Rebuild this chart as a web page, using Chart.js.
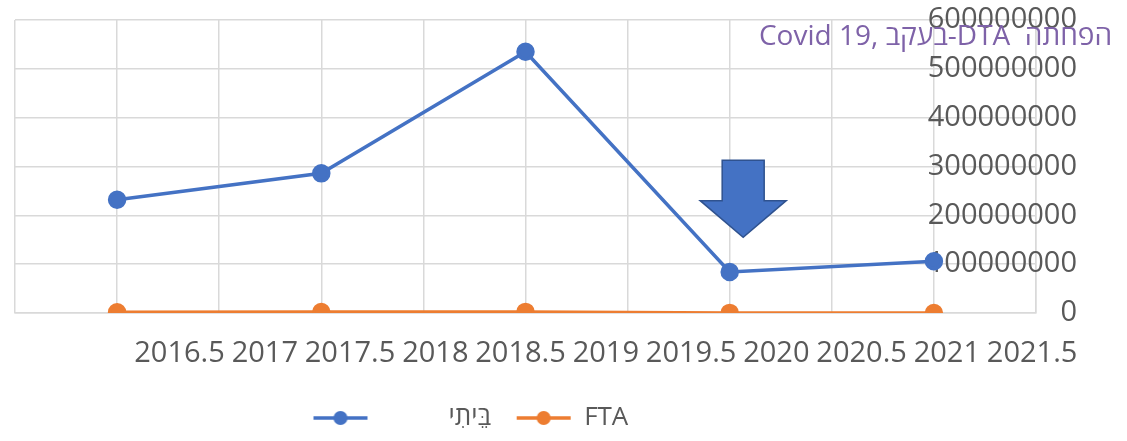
<!DOCTYPE html>
<html>
<head>
<meta charset="utf-8">
<script src="https://cdn.jsdelivr.net/npm/chart.js@4.4.1/dist/chart.umd.min.js"></script>
<style>
  html, body { margin: 0; padding: 0; background: #fff; }
  #wrap { width: 1127px; height: 441px; }
</style>
</head>
<body>
<div id="wrap"><canvas id="chart"></canvas></div>
<script>
// data
const years = [2017, 2018, 2019, 2020, 2021];
const beitiValues = [232000000, 286000000, 535000000, 84000000, 106000000];
const ftaValues = [1500000, 1800000, 2300000, 200000, 0];
const seriesNames = ['בֵּיתִי', 'FTA'];
const xTicks = [2016.5, 2017, 2017.5, 2018, 2018.5, 2019, 2019.5, 2020, 2020.5, 2021, 2021.5];
const yTicks = [0, 100000000, 200000000, 300000000, 400000000, 500000000, 600000000];
const titleText = 'Covid 19, בעקב-DTA  הפחתה';

const BLUE = '#4472C4';
const ORANGE = '#ED7D31';
const TEXT = '#595959';
const GRID = '#d9d9d9';
const FONT = '"Open Sans", "Noto Sans", "DejaVu Sans", sans-serif';
const legendPad = '          ';

function legendMarker(color) {
    const c = document.createElement('canvas');
    c.width = 56;
    c.height = 16;
    const g = c.getContext('2d');
    g.strokeStyle = color;
    g.lineWidth = 3.5;
    g.beginPath();
    g.moveTo(1, 8);
    g.lineTo(55, 8);
    g.stroke();
    g.fillStyle = color;
    g.beginPath();
    g.arc(28, 8, 7, 0, Math.PI * 2);
    g.fill();
    return c;
}

// title sits over the top-right corner, like the original
const titlePlugin = {
    id: 'cornerTitle',
    afterDraw(chart) {
        const ctx = chart.ctx;
        ctx.save();
        ctx.font = '28px ' + FONT;
        ctx.fillStyle = '#7e62a8';
        ctx.textAlign = 'right';
        ctx.textBaseline = 'middle';
        ctx.fillText(titleText, chart.width - 15, 37);
        ctx.restore();
    }
};

// block arrow pointing at the 2020 drop
const arrowPlugin = {
    id: 'dropArrow',
    afterDatasetsDraw(chart) {
        const { ctx, scales: { x, y } } = chart;
        const cx = x.getPixelForValue(2020.066);
        const top = y.getPixelForValue(313000000);
        const neck = y.getPixelForValue(230000000);
        const tip = y.getPixelForValue(155000000);
        const shaft = 21, head = 43;
        ctx.save();
        ctx.beginPath();
        ctx.moveTo(cx - shaft, top);
        ctx.lineTo(cx + shaft, top);
        ctx.lineTo(cx + shaft, neck);
        ctx.lineTo(cx + head, neck);
        ctx.lineTo(cx, tip);
        ctx.lineTo(cx - head, neck);
        ctx.lineTo(cx - shaft, neck);
        ctx.closePath();
        ctx.fillStyle = BLUE;
        ctx.fill();
        ctx.strokeStyle = '#2F528F';
        ctx.lineWidth = 1.5;
        ctx.stroke();
        ctx.restore();
    }
};

// legend starts left of centre in the original
const legendPlace = {
    id: 'legendPlace',
    afterLayout(chart) {
        const lg = chart.legend;
        const w = lg.right - lg.left;
        lg.left = 288;
        lg.right = lg.left + w;
    }
};

new Chart(document.getElementById('chart'), {
    type: 'scatter',
    data: {
        datasets: [
            {
                label: seriesNames[0],
                data: years.map((yr, i) => ({ x: yr, y: beitiValues[i] })),
                showLine: true,
                borderColor: BLUE,
                backgroundColor: BLUE,
                borderWidth: 3.5,
                pointRadius: 7.5,
                pointHoverRadius: 7.5
            },
            {
                label: seriesNames[1],
                data: years.map((yr, i) => ({ x: yr, y: ftaValues[i] })),
                showLine: true,
                borderColor: ORANGE,
                backgroundColor: ORANGE,
                borderWidth: 3.5,
                pointRadius: 7.5,
                pointHoverRadius: 7.5
            }
        ]
    },
    options: {
        responsive: true,
        maintainAspectRatio: false,
        animation: false,
        layout: { padding: { top: 20, right: 50, left: 15, bottom: 0 } },
        plugins: {
            title: { display: false },
            tooltip: { enabled: false },
            legend: {
                position: 'bottom',
                align: 'start',
                labels: {
                    usePointStyle: true,
                    pointStyleWidth: 55,
                    padding: 25,
                    font: { family: FONT, size: 26, lineHeight: 1 },
                    color: TEXT,
                    generateLabels: (chart) => chart.data.datasets.map((ds, i) => ({
                        text: (i === 0 ? legendPad : '') + ds.label,
                        pointStyle: legendMarker(ds.borderColor),
                        fillStyle: ds.borderColor,
                        strokeStyle: ds.borderColor,
                        lineWidth: 0,
                        fontColor: TEXT,
                        hidden: false,
                        datasetIndex: i
                    }))
                }
            }
        },
        scales: {
            x: {
                type: 'linear',
                position: 'bottom',
                min: 2016.5,
                max: 2021.5,
                afterBuildTicks: (s) => { s.ticks = xTicks.map(v => ({ value: v })); },
                ticks: { display: false },
                grid: { color: GRID, lineWidth: 1.5, drawTicks: false },
                border: { color: GRID, width: 1.5 }
            },
            // label row: the original squeezes the year labels together
            x2: {
                type: 'linear',
                position: 'bottom',
                min: 2015.535,
                max: 2021.523,
                afterBuildTicks: (s) => { s.ticks = xTicks.map(v => ({ value: v })); },
                afterFit: (s) => { s.height = 67; },
                ticks: {
                    color: TEXT,
                    padding: 15,
                    maxRotation: 0,
                    autoSkip: false,
                    font: { family: FONT, size: 29, lineHeight: 52 / 29 },
                    callback: (v) => String(v)
                },
                grid: { display: false, drawTicks: false },
                border: { display: false }
            },
            y: {
                position: 'right',
                min: 0,
                max: 600000000,
                afterBuildTicks: (s) => { s.ticks = yTicks.map(v => ({ value: v })); },
                afterFit: (s) => { s.width = 41; s.paddingTop = 0; s.paddingBottom = 0; },
                ticks: {
                    mirror: true,
                    padding: 41,
                    color: TEXT,
                    font: { family: FONT, size: 29 },
                    callback: (v) => String(v)
                },
                grid: { color: GRID, lineWidth: 1.5, drawTicks: false },
                border: { color: GRID, width: 1.5 }
            }
        }
    },
    plugins: [titlePlugin, arrowPlugin, legendPlace]
});
</script>
</body>
</html>
